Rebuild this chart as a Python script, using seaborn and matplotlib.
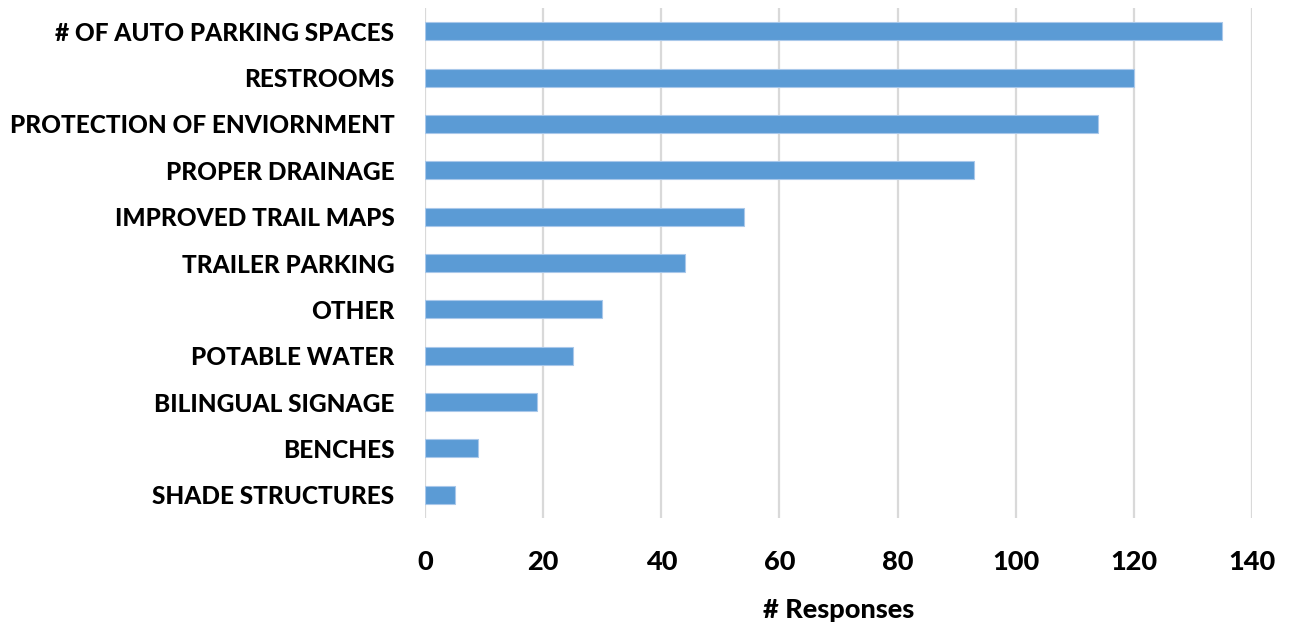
import pandas as pd
import matplotlib.pyplot as plt
import seaborn as sns

# survey responses, top to bottom as in the chart
categories = ['# OF AUTO PARKING SPACES', 'RESTROOMS', 'PROTECTION OF ENVIORNMENT',
              'PROPER DRAINAGE', 'IMPROVED TRAIL MAPS', 'TRAILER PARKING', 'OTHER',
              'POTABLE WATER', 'BILINGUAL SIGNAGE', 'BENCHES', 'SHADE STRUCTURES']
responses = [135, 120, 114, 93, 54, 44, 30, 25, 19, 9, 5]
x_ticks = [0, 20, 40, 60, 80, 100, 120, 140]

df = pd.DataFrame({'category': categories, 'responses': responses})

sns.set_theme(style='white')
plt.rcParams['font.family'] = ['Lato', 'DejaVu Sans']

fig = plt.figure(figsize=(12.89, 6.28), dpi=100)
ax = fig.add_axes([425 / 1289, 1 - 518 / 628, (1252 - 425) / 1289, 510 / 628])

sns.barplot(data=df, x='responses', y='category', orient='h', color='#5B9BD5',
            saturation=1, width=0.39, edgecolor='#A9C8EA', linewidth=0.8, ax=ax, zorder=3)

ax.set_xlim(0, 140)
ax.set_ylim(10.5, -0.5)
ax.set_xticks(x_ticks)
ax.xaxis.grid(True, color='#D9D9D9', linewidth=1.6, zorder=0)
ax.yaxis.grid(False)
for s in ax.spines.values():
    s.set_visible(False)

ax.tick_params(axis='y', length=0, pad=22, labelsize=17.6, labelcolor='black')
ax.tick_params(axis='x', length=0, pad=23, labelsize=19.5, labelcolor='black')
for lbl in ax.get_yticklabels() + ax.get_xticklabels():
    lbl.set_fontweight('black')

ax.set_ylabel('')
ax.set_xlabel('# Responses', fontsize=19.5, fontweight='black', color='black', labelpad=17)

fig.savefig('out.png', dpi=100)
